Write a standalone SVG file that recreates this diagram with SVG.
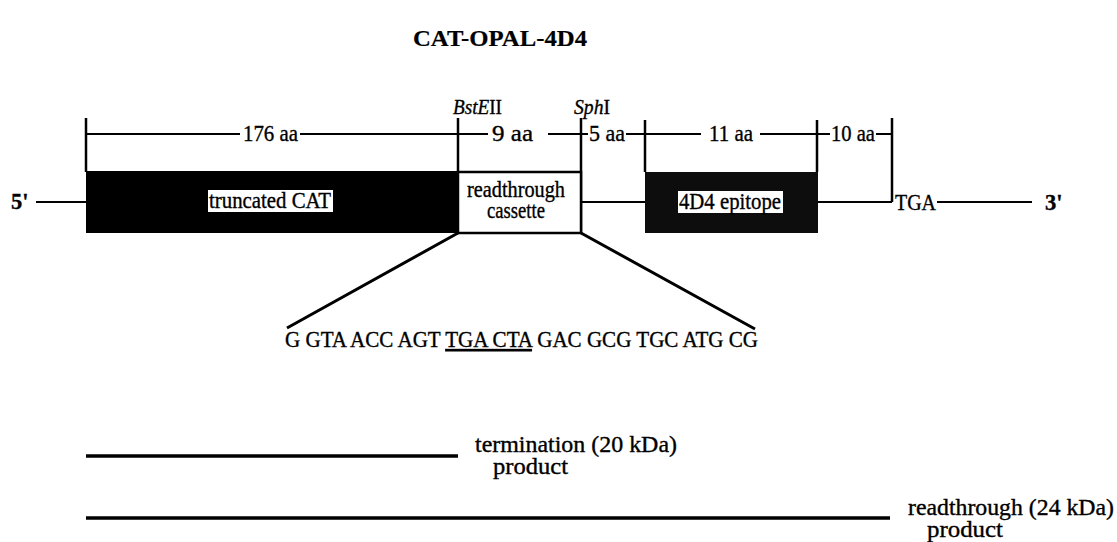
<svg xmlns="http://www.w3.org/2000/svg" width="1117" height="542" viewBox="0 0 1117 542">
<style>
text{font-family:"Liberation Serif","Times New Roman",serif;fill:#000;stroke:#000;stroke-width:0.35}
.t{font-size:22.5px}
.s{font-size:21px}
.b{font-size:24px;font-weight:bold;stroke-width:0.2}
.ln{stroke:#000;stroke-width:2;fill:none}
.v{stroke:#000;stroke-width:2.5;fill:none}
.d{stroke:#000;stroke-width:3;fill:none}
.p{stroke:#000;stroke-width:3.5;fill:none}
</style>
<rect width="1117" height="542" fill="#fff"/>
<text class="b" x="500" y="46" text-anchor="middle" textLength="174" lengthAdjust="spacingAndGlyphs">CAT-OPAL-4D4</text>

<g id="site-labels">
<text class="s" x="453" y="114" textLength="49" lengthAdjust="spacingAndGlyphs"><tspan font-style="italic">BstE</tspan>II</text>
<text class="s" x="574" y="114" textLength="36" lengthAdjust="spacingAndGlyphs"><tspan font-style="italic">Sph</tspan>I</text>
</g>

<g id="connectors">
<path class="ln" d="M86 134H240M300 134H458M458 134H488M548 134H581M581 134H588M626 134H645M645 134H701M760 134H817M817 134H830M876 134H892"/>
<path class="v" d="M86 118V172M458 118V172M581 118V233M645 120V172M817 120V172M892 118V202"/>
<path class="ln" d="M36 202H86M581 202H645M818 202H892M937 202H1032"/>
<path class="d" d="M458 233L287 328M581 233L755 329"/>
<path class="p" d="M86 456H458M86 518H890"/>
</g>

<g id="dim-labels">
<text class="t" x="243" y="141" textLength="55" lengthAdjust="spacingAndGlyphs">176 aa</text>
<text class="t" x="492" y="141" textLength="41" lengthAdjust="spacingAndGlyphs">9 aa</text>
<text class="t" x="589" y="141" textLength="36" lengthAdjust="spacingAndGlyphs">5 aa</text>
<text class="t" x="709" y="141" textLength="44" lengthAdjust="spacingAndGlyphs">11 aa</text>
<text class="t" x="831" y="141" textLength="44" lengthAdjust="spacingAndGlyphs">10 aa</text>
</g>

<g id="end5">
<text class="t" x="11" y="209" font-weight="bold">5'</text>
</g>

<g id="truncated-cat">
<rect x="86" y="171" width="372" height="62" fill="#000"/>
<rect x="208" y="190" width="125" height="22" fill="#fff"/>
<text class="t" x="270" y="208" text-anchor="middle" textLength="122" lengthAdjust="spacingAndGlyphs">truncated CAT</text>
</g>

<g id="readthrough-cassette">
<rect x="458" y="172" width="123" height="61" fill="#fff" stroke="#000" stroke-width="2.5"/>
<text class="t" x="516" y="197" text-anchor="middle" textLength="98" lengthAdjust="spacingAndGlyphs">readthrough</text>
<text class="t" x="516" y="218" text-anchor="middle" textLength="58" lengthAdjust="spacingAndGlyphs">cassette</text>
</g>

<g id="epitope">
<rect x="645" y="172" width="173" height="61" fill="#0d0d0d"/>
<rect x="678" y="191" width="105" height="22" fill="#fff"/>
<text class="t" x="730" y="209" text-anchor="middle" textLength="102" lengthAdjust="spacingAndGlyphs">4D4 epitope</text>
</g>

<g id="stop">
<text class="t" x="895" y="210" textLength="41" lengthAdjust="spacingAndGlyphs">TGA</text>
</g>

<g id="end3">
<text class="t" x="1045" y="210" font-weight="bold">3'</text>
</g>

<g id="sequence">
<text class="t" x="285" y="347" textLength="473" lengthAdjust="spacingAndGlyphs">G GTA ACC AGT <tspan text-decoration="underline">TGA CTA</tspan> GAC GCG TGC ATG CG</text>
</g>

<g id="termination-product">
<text class="t" x="475" y="452" textLength="202" lengthAdjust="spacingAndGlyphs">termination (20 kDa)</text>
<text class="t" x="493" y="474" textLength="75" lengthAdjust="spacingAndGlyphs">product</text>
</g>

<g id="readthrough-product">
<text class="t" x="908" y="515" textLength="206" lengthAdjust="spacingAndGlyphs">readthrough (24 kDa)</text>
<text class="t" x="927" y="537" textLength="76" lengthAdjust="spacingAndGlyphs">product</text>
</g>
</svg>
